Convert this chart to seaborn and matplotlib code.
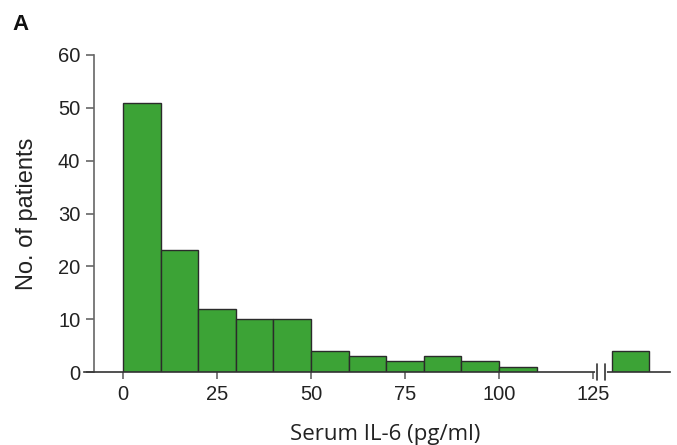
import numpy as np
import pandas as pd
import matplotlib
matplotlib.use("Agg")
import matplotlib.pyplot as plt
import seaborn as sns

# Serum IL-6 distribution: bin edges (pg/ml) and patient counts per bin
bin_edges = [0, 10, 20, 30, 40, 50, 60, 70, 80, 90, 100, 110, 130, 140]
counts = [51, 23, 12, 10, 10, 4, 3, 2, 3, 2, 1, 0, 4]
x_ticks = [0, 25, 50, 75, 100, 125]
y_ticks = [0, 10, 20, 30, 40, 50, 60]

centers = [(a + b) / 2 for a, b in zip(bin_edges[:-1], bin_edges[1:])]
df = pd.DataFrame({"il6": centers, "n": counts})

sns.set_theme(style="ticks")
plt.rcParams["font.family"] = ["Liberation Sans", "DejaVu Sans"]

fig = plt.figure(figsize=(6.77, 4.45), dpi=100)
ax = fig.add_axes([84 / 677, 73 / 445, 586 / 677, 317 / 445])

sns.histplot(data=df, x="il6", weights="n", bins=bin_edges, ax=ax,
             color="#3ca336", alpha=1.0, edgecolor="#2b2b2b", linewidth=1.0)

# drop the empty bin that spans the axis break
for p in list(ax.patches):
    if p.get_height() == 0:
        p.remove()

ax.set_xlim(-10.4, 145.5)
ax.set_ylim(0, 60)
ax.set_xticks(x_ticks)
ax.set_yticks(y_ticks)

for s in ["top", "right"]:
    ax.spines[s].set_visible(False)
ax.spines["left"].set_position(("data", -7.7))
ax.spines["left"].set_color("#666666")
ax.spines["left"].set_linewidth(1.2)
ax.spines["bottom"].set_color("#333333")
ax.spines["bottom"].set_linewidth(1.2)

ax.tick_params(axis="y", length=5.5, width=1.2, color="#666666", pad=4.5,
               labelsize=14.5, labelcolor="#222222")
ax.tick_params(axis="x", length=5, width=1.2, color="#666666", pad=4,
               labelsize=14.5, labelcolor="#222222")

ax.set_ylabel("No. of patients", fontsize=17, color="#222222", labelpad=14)
ax.set_xlabel("Serum IL-6 (pg/ml)", fontsize=16, color="#222222", labelpad=15,
              x=(385 - 84) / 586, family=["Open Sans", "DejaVu Sans"])

# axis break marks on the x-axis
ax.plot([126.1, 128.2], [0, 0], color="white", lw=3, clip_on=False, zorder=5)
for xb in (126.1, 128.2):
    ax.plot([xb, xb], [-1.5, 1.5], color="#333333", lw=1.2, clip_on=False, zorder=6)

fig.text(12 / 677, 1 - 30 / 445, "A", fontsize=16, fontweight="bold", color="#111111")

fig.savefig("out.png", dpi=100)
